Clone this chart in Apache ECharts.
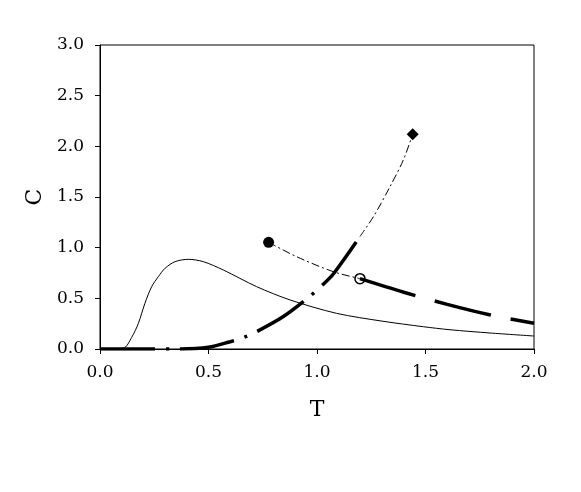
<html>
<head>
    <meta charset='utf-8'/>
    <title>C vs T</title>
    <style>
        body {
            margin: 0;
            padding: 0;
            background: #fff;
        }

        #chart {
            width: 581px;
            height: 492px;
        }
    </style>
</head>
<body>
<div id='chart'></div>
<script type="text/javascript" src="https://cdn.jsdelivr.net/npm/echarts@6/dist/echarts.min.js"></script>
<script type="text/javascript">
    // thin solid curve
    var solidCurve = [[0, 0], [0.107, 0.007], [0.146, 0.115], [0.177, 0.254], [0.207, 0.451], [0.238, 0.615],
        [0.269, 0.714], [0.3, 0.797], [0.346, 0.862], [0.407, 0.885], [0.476, 0.862], [0.568, 0.78],
        [0.722, 0.615], [0.876, 0.484], [1.09, 0.352], [1.3, 0.275], [1.49, 0.22], [1.613, 0.19],
        [1.797, 0.158], [2.0, 0.128]];
    // thick dash-dot branch rising from zero
    var risingThick = [[0, 0], [0.35, 0], [0.5, 0.017], [0.6, 0.072], [0.66, 0.112], [0.722, 0.171],
        [0.845, 0.32], [0.96, 0.507], [1.022, 0.625], [1.075, 0.74], [1.198, 1.11]];
    // thin dash-dot continuation up to the diamond
    var risingThin = [[1.198, 1.11], [1.26, 1.306], [1.336, 1.6], [1.398, 1.866], [1.441, 2.12]];
    // thin dash-dot from filled circle to open circle
    var fallingThin = [[0.777, 1.053], [0.906, 0.911], [1.075, 0.763], [1.198, 0.694]];
    // thick long-dash branch
    var fallingThick = [[1.198, 0.694], [1.4, 0.56], [1.6, 0.44], [1.8, 0.335], [2.0, 0.254]];
    // end markers
    var filledCircle = [[0.777, 1.053]];
    var openCircle = [[1.198, 0.694]];
    var diamond = [[1.441, 2.12]];

    var font = 'DejaVu Serif';
    var chart = echarts.init(document.getElementById('chart'), null, {renderer: 'canvas'});

    var option = {
        backgroundColor: '#fff',
        animation: false,
        grid: {
            left: 100,
            right: 47,
            top: 45,
            bottom: 143,
            show: true,
            borderColor: '#000',
            borderWidth: 1
        },
        xAxis: {
            type: 'value',
            min: 0,
            max: 2,
            interval: 0.5,
            name: 'T',
            nameLocation: 'middle',
            nameGap: 50,
            nameTextStyle: {fontFamily: font, fontSize: 22, color: '#000'},
            axisLine: {lineStyle: {color: '#000', width: 1}},
            axisTick: {show: true, length: 5, lineStyle: {color: '#000'}},
            axisLabel: {
                margin: 15, fontFamily: font, fontSize: 17, color: '#000',
                formatter: function (v) { return v.toFixed(1); }
            },
            splitLine: {show: false}
        },
        yAxis: {
            type: 'value',
            min: 0,
            max: 3,
            interval: 0.5,
            name: 'C',
            nameLocation: 'middle',
            nameRotate: 90,
            nameGap: 52,
            nameTextStyle: {fontFamily: font, fontSize: 22, color: '#000'},
            axisLine: {show: true, lineStyle: {color: '#000', width: 1}},
            axisTick: {show: true, length: 5, lineStyle: {color: '#000'}},
            axisLabel: {
                margin: 16, fontFamily: font, fontSize: 17, color: '#000',
                formatter: function (v) { return v.toFixed(1); }
            },
            splitLine: {show: false}
        },
        series: [
            {
                type: 'line', data: solidCurve, smooth: 0.3, showSymbol: false,
                lineStyle: {color: '#000', width: 1}
            },
            {
                type: 'line', data: risingThick, smooth: 0.3, showSymbol: false,
                lineStyle: {color: '#000', width: 3.5, type: [55, 11, 3, 11]}
            },
            {
                type: 'line', data: risingThin, smooth: 0.3, showSymbol: false,
                lineStyle: {color: '#000', width: 1, type: [8, 3, 2, 3]}
            },
            {
                type: 'line', data: fallingThin, smooth: 0.3, showSymbol: false,
                lineStyle: {color: '#000', width: 1, type: [8, 3, 2, 3]}
            },
            {
                type: 'line', data: fallingThick, smooth: 0.3, showSymbol: false,
                lineStyle: {color: '#000', width: 3.5, type: [58, 20]}
            },
            {
                type: 'scatter', data: filledCircle, symbol: 'circle', symbolSize: 11,
                itemStyle: {color: '#000', opacity: 1}
            },
            {
                type: 'scatter', data: diamond, symbol: 'diamond', symbolSize: 12,
                itemStyle: {color: '#000', opacity: 1}
            },
            {
                type: 'scatter', data: openCircle, symbol: 'circle', symbolSize: 10,
                itemStyle: {color: '#fff', borderColor: '#000', borderWidth: 1.5, opacity: 1}
            }
        ]
    };
    chart.setOption(option);
</script>
</body>
</html>
